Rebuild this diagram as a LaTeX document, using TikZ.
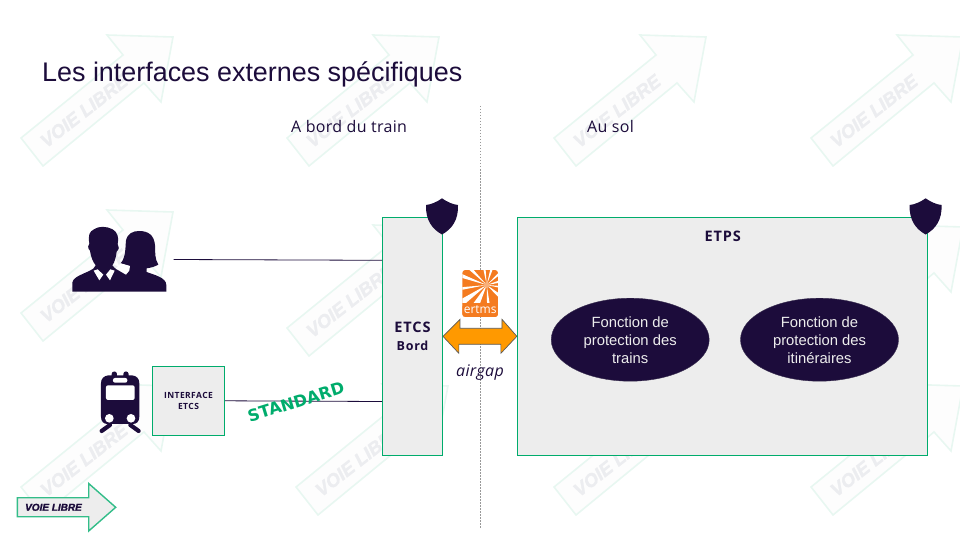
\documentclass[tikz,border=0pt]{standalone}
\usepackage{fontspec}
\setmainfont{Open Sans}
\newfontfamily\arialf{Liberation Sans}
\newfontfamily\dejaf{DejaVu Sans}
\newfontfamily\wsf[LetterSpace=2]{Open Sans}
\newfontfamily\wsif[LetterSpace=5]{Open Sans}
\newfontfamily\wsbf[LetterSpace=6]{Open Sans}
\newfontfamily\heavyf[UprightFont=*\space Bold Italic,FakeBold=1.6]{Liberation Sans}
\usetikzlibrary{shapes.geometric,calc}
\definecolor{navy}{HTML}{1C0C3B}
\definecolor{vlgreen}{HTML}{00AC6C}
\definecolor{boxgray}{HTML}{EDEDED}
\definecolor{wmgreen}{HTML}{E8F7F1}
\definecolor{wmfill}{HTML}{FDFDFD}
\definecolor{wmtext}{HTML}{ECEDF0}
\definecolor{airorange}{HTML}{FF9900}
\definecolor{ertmsorange}{HTML}{F47B20}
\tikzset{
  wmarrow/.style={draw=wmgreen,fill=wmfill,line width=1.6pt},
  wmlabel/.style={text=wmtext,font=\heavyf\fontsize{18.5}{19}\selectfont,rotate=38,inner sep=0pt},
  greenbox/.style={draw=vlgreen,fill=boxgray,line width=0.9pt,inner sep=0pt,align=center,text=navy},
  link/.style={draw=navy,line width=0.8pt},
  fnellipse/.style={ellipse,fill=navy,draw=navy!70!gray,line width=0.4pt,minimum width=158pt,minimum height=83pt,inner sep=0pt,
    align=center,text=white!93!black,font=\arialf\fontsize{14.8}{18}\selectfont},
  heading/.style={text=navy,font=\wsf\fontsize{16}{17}\selectfont,inner sep=0pt}
}
\begin{document}
\begin{tikzpicture}[x=1pt,y=-1pt]
\useasboundingbox (0,0) rectangle (960,540);
% watermark
\foreach \i/\dx/\dy in {1/0/0,2/266/0,3/533/0,4/790/0,5/0/175,6/266/190,7/790/190,8/0/349,9/275/349,10/533/349,11/790/349}{
  \begin{scope}[shift={(\dx,\dy)}]
    \draw[wmarrow] (43,166) -- (21,138) -- (123,55) -- (107,35) -- (173,37) -- (161,102) -- (144,83) -- cycle;
    \node[wmlabel] (wm\i) at (84,111) {VOIE LIBRE};
  \end{scope}
}
% title and headings
\node[anchor=west,inner sep=0pt,text=navy,font=\arialf\fontsize{26.9}{30}\selectfont] (title) at (42,74) {Les interfaces externes spécifiques};
\node[heading,anchor=west] (bord) at (291,127) {A bord du train};
\node[heading,anchor=west] (sol) at (587,127) {Au sol};
% separator
\coordinate (septop) at (480.5,106);
\coordinate (sepbot) at (480.5,528);
\draw[gray!80,line width=0.7pt,dash pattern=on 1.5pt off 1.5pt] (septop) -- (sepbot);
% boxes
\node[greenbox,minimum width=60pt,minimum height=238pt,font=\wsbf\bfseries\fontsize{14.5}{18}\selectfont] (etcs) at (412.5,336.3)
  {ETCS\\{\fontsize{12.5}{18}\selectfont Bord}};
\node[greenbox,minimum width=410pt,minimum height=238pt] (etps) at (722.3,336.3) {};
\node[text=navy,inner sep=0pt,font=\wsbf\bfseries\fontsize{14.5}{15}\selectfont] (etpslabel) at (722.7,236) {ETPS};
\node[greenbox,minimum width=72.5pt,minimum height=69pt,font=\wsif\bfseries\fontsize{8.5}{11}\selectfont] (iface) at (188.5,400.8) {INTERFACE\\ETCS};
\node[fnellipse] (f1) at (630.2,339.7) {\rule{0pt}{11.5pt}Fonction de\\protection des\\trains};
\node[fnellipse] (f2) at (819.5,339.7) {\rule{0pt}{11.5pt}Fonction de\\protection des\\itinéraires};
% connectors
\coordinate (userend) at (173.5,259.5);
\draw[link] (userend) -- (etcs.west |- 0,260.3);
\draw[link] (iface.east) -- (etcs.west |- 0,401.5);
\node[rotate=17,text=vlgreen,inner sep=0pt,font=\dejaf\bfseries\fontsize{16.3}{18}\selectfont] (std) at (296,401.7) {STANDARD};
% airgap arrow
\draw[fill=airorange,draw=black!65,line width=0.7pt,line join=miter] (etcs.east) -- ++(17,-17) -- ++(0,9) -- ++(42,0) -- ++(0,-9) -- (etps.west) -- ++(-16,17) -- ++(0,-9) -- ++(-42,0) -- ++(0,9) -- cycle;
\node[text=navy,inner sep=0pt,font=\wsf\itshape\fontsize{16}{17}\selectfont] (airgap) at (480,373) {airgap};
% ertms logo
\begin{scope}
  \clip[rounded corners=3pt] (462.3,270) rectangle (498,317);
  \fill[ertmsorange] (462.3,270) rectangle (498,317);
  \foreach \a/\w in {8/4,40/6,85/4,118/8,145/6,172/3,200/4,225/4,262/4,287/4,318/4,345/5}{
    \fill[white] (486.7,285) -- ($(486.7,285)+(\a-\w:60)$) -- ($(486.7,285)+(\a+\w:60)$) -- cycle;
  }
  \fill[ertmsorange!60!white] (486.7,285) circle (3pt);
  \fill[ertmsorange] (462.3,303) rectangle (498,317);
\end{scope}
\node[text=white,inner sep=0pt,font=\fontsize{12}{12}\selectfont] (ertms) at (480.2,309.5) {ertms};
% shields
\foreach \sx in {442,925.6}{
  \fill[navy] (\sx,198.3) .. controls (\sx+5,202) and (\sx+11,204.5) .. (\sx+16,205)
     .. controls (\sx+16.5,220) and (\sx+10,229) .. (\sx,234.5)
     .. controls (\sx-10,229) and (\sx-16.5,220) .. (\sx-16,205)
     .. controls (\sx-11,204.5) and (\sx-5,202) .. cycle;
}
% people icon (zoomed coordinates)
\begin{scope}[shift={(0,200)},x=0.3333pt,y=-0.3333pt]
  \fill[navy] (362,190) .. controls (378,172) and (376,140) .. (378,122)
     .. controls (382,100) and (400,93) .. (417,93)
     .. controls (445,93) and (462,105) .. (465,135)
     .. controls (466,160) and (464,175) .. (475,194)
     .. controls (465,200) and (450,204) .. (440,205) -- (440,216)
     .. controls (460,224) and (499,232) .. (499,255) -- (499,275)
     -- (217,275) -- (217,248) .. controls (220,228) and (255,222) .. (280,206)
     -- (287,196) .. controls (278,185) and (272,168) .. (270,152)
     .. controls (262,145) and (264,135) .. (268,130)
     .. controls (264,105) and (268,95) .. (282,88)
     .. controls (295,78) and (320,78) .. (338,88)
     .. controls (352,95) and (358,115) .. (353,132)
     .. controls (358,140) and (358,148) .. (350,155)
     .. controls (348,172) and (344,186) .. (337,196)
     -- (345,205) -- (385,212) -- (388,198) -- cycle;
  \fill[white] (281,212) -- (298,241) -- (310,224) -- (293,208) -- cycle;
  \fill[white] (344,212) -- (330,241) -- (318,224) -- (331,208) -- cycle;
  \fill[white] (347,206) -- (362,190) -- (390,198) -- (388,212) -- (378,224) -- cycle;
  % train
  \fill[navy] (303,550) .. controls (303,535) and (312,528) .. (325,526)
     -- (335,526) -- (335,522) .. controls (335,512) and (351,512) .. (351,522) -- (351,526)
     -- (370,526) -- (370,522) .. controls (370,512) and (386,512) .. (386,522) -- (386,526)
     -- (396,526) .. controls (410,528) and (418,535) .. (418,550)
     -- (418,650) .. controls (418,665) and (410,672) .. (398,672)
     -- (323,672) .. controls (311,672) and (303,665) .. (303,650) -- cycle;
  \fill[white,rounded corners=2pt] (339,534) rectangle (382,548);
  \fill[white,rounded corners=2pt] (318,556) rectangle (404,600);
  \fill[white] (328,655) circle (13);
  \fill[white] (393,655) circle (13);
  \draw[navy,line width=4.2pt,line cap=round] (305,693) -- (330,675);
  \draw[navy,line width=4.2pt,line cap=round] (416,693) -- (391,675);
\end{scope}
% voie libre logo
\draw[draw=vlgreen!80!white,fill=boxgray,line width=1.4pt] (17.3,497.7) -- (88.7,497.7) -- (88.7,483.5) -- (115.7,507.3) -- (88.7,531) -- (88.7,516.7) -- (17.3,516.7) -- cycle;
\node[text=navy,inner sep=0pt,font=\heavyf\fontsize{10}{11}\selectfont] (logotext) at (53.5,507.3) {VOIE LIBRE};
\end{tikzpicture}
\end{document}
